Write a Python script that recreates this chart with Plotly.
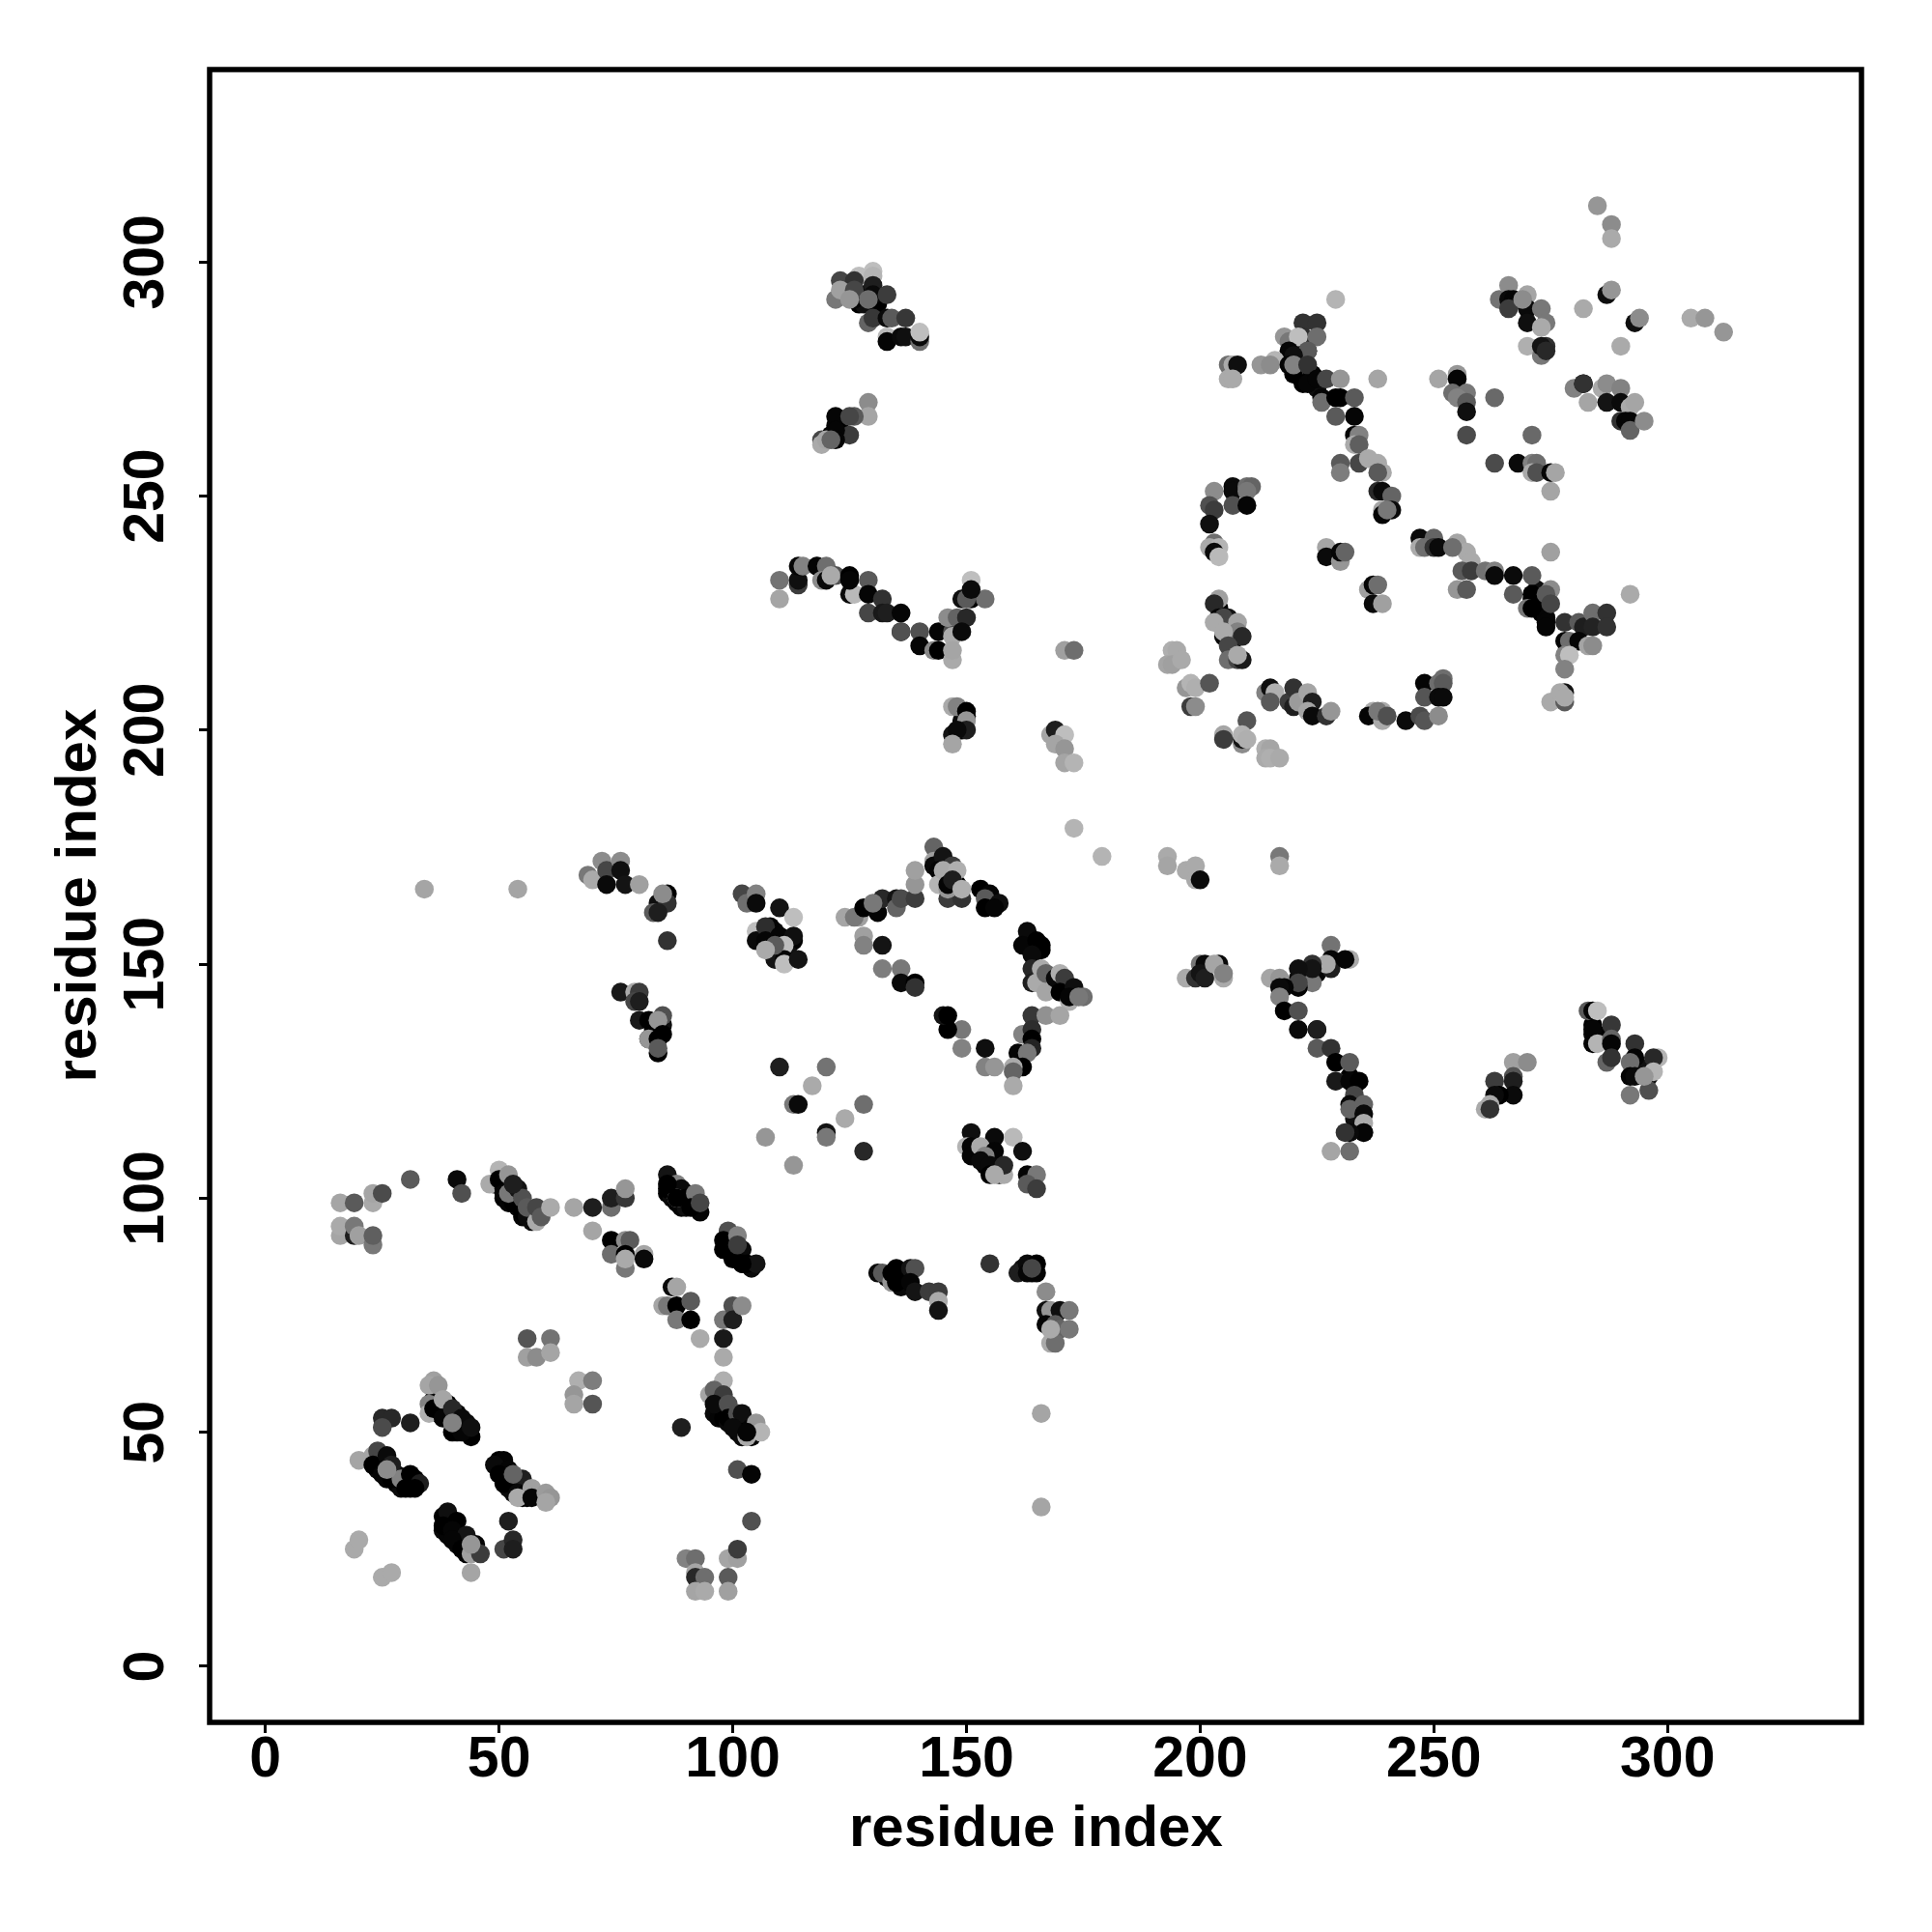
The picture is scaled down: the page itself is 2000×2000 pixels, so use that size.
import plotly.graph_objects as go

tick_values = [0, 50, 100, 150, 200, 250, 300]
axis_label = "residue index"

# dense dark contacts that lie under the lighter ones
under_i = [49,50,51,52,52,53,54,54,55,56,57,
36,37,37,38,39,39,41,41,41,43,43,44,
24,24,25,26,28,28,29,30,32,31,
50,50,51,52,52,53,53,55,55,56,57,
38,38,39,39,40,41,41,42,43,43,44,
96,96,97,97,98,98,99,100,101,102,102,103,104,
86,87,88,89,90,90,91,92,93,87,
98,99,100,101,101,102,104,
284,284,285,293,294,
232,233,234,234,233,
221,222,223,225,
223,221,220,224,225,
204,205,206,207,207,
271,272,273,274,272,273,
126,127,128,128,131,
122,123,121,
150,149,149,
153,154,155,156,157,157,
164,165,166,163,
133,134,136,137,136,
164,165,162,
113,109,110,108,112,106,
84,83,84,85,
146,145,148,
170,171,172,169]
under_j = [103,103,100,99,102,100,98,100,96,97,95,
57,54,56,55,53,56,51,54,50,50,52,49,
44,42,44,40,41,39,38,40,40,38,
43,42,42,40,38,39,37,38,36,36,37,
32,29,31,28,31,28,26,28,24,26,25,
57,54,55,53,55,53,52,53,50,51,49,52,49,
101,100,99,98,98,101,100,98,97,103,
89,90,88,87,88,86,85,
137,135,135,128,128,
126,124,120,118,117,
147,147,148,148,
281,282,276,276,273,
226,222,221,219,223,
228,227,225,224,230,228,
293,291,293,291,291,
265,266,263,
203,200,202,
109,107,110,108,107,105,
155,153,154,155,
83,83,83,83,81,
84,84,85,
155,157,152,158,152,156,
137,136,135,137,
168,169,167,
146,145,144,145]
under_grey = [0,10,0,5,15,0,10,0,5,0,10,
0,10,0,5,15,0,10,0,5,0,10,0,
0,10,0,5,15,0,10,0,5,0,
0,10,0,5,15,0,10,0,5,0,10,
0,10,0,5,15,0,10,0,5,0,10,
0,10,0,5,15,0,10,0,5,0,10,0,5,
0,10,0,5,15,0,10,0,5,0,
0,10,0,5,15,0,10,
0,10,0,5,15,
0,10,0,5,15,
0,10,0,5,
0,10,0,5,15,
0,10,0,5,15,
0,10,0,5,15,0,
10,0,5,15,0,
10,0,5,
15,0,10,
0,5,15,0,10,0,
5,15,0,10,
0,5,15,0,10,
0,5,15,
0,10,0,5,15,0,
10,0,5,15,
0,10,0,
5,15,0,10]

# residue i, residue j, grey level of each contact, in drawing order
res_i = [
16,19,23,23,25,31,41,42,16,16,19,19,20,23,23,
50,48,50,51,51,53,55,56,57,52,52,54,55,56,58,58,59,61,53,
66,70,74,74,77,77,70,74,74,77,78,77,77,77,81,81,
86,86,88,89,88,90,92,91,93,86,88,
99,98,101,99,102,100,103,105,102,101,
87,88,85,86,88,91,88,91,93,98,100,100,102,98,98,
56,61,56,58,61,67,70,66,66,70,
36,35,37,35,35,36,38,38,40,42,40,42,44,40,
25,27,25,31,
20,23,24,23,26,25,27,27,29,31,30,33,32,26,
50,51,49,52,50,51,55,54,56,57,54,57,60,61,60,53,
39,38,41,40,43,40,45,42,44,46,44,44,52,51,53,53,19,20,25,27,
101,104,104,89,
98,95,96,98,96,99,99,101,102,104,100,103,105,106,103,
90,92,92,92,94,92,94,99,101,101,99,99,
34,54,69,70,72,73,73,76,76,77,80,
86,84,86,83,84,85,86,
76,79,80,79,80,80,82,85,84,82,82,85,84,84,84,
102,103,105,105,110,113,
105,105,107,107,110,113,111,109,111,111,114,109,107,
110,120,117,113,114,128,124,120,120,128,107,113,
124,127,126,128,128,128,132,132,136,136,139,139,
131,132,130,135,135,136,139,139,139,
143,143,143,145,144,147,146,149,144,146,145,146,148,147,149,
153,155,154,154,157,156,
163,162,165,166,164,164,164,166,165,167,167,169,170,171,170,172,173,172,175,174,
164,167,170,162,164,164,161,164,163,162,160,160,160,154,156,154,149,149,146,145,146,173,179,
151,156,160,150,151,151,153,156,162,154,153,155,155,158,158,156,163,165,163,165,
131,132,134,135,134,135,138,139,138,139,142,144,144,144,
155,161,163,163,165,164,
167,167,168,170,172,167,169,170,172,168,169,168,166,166,
123,122,127,126,123,126,126,125,130,130,130,130,129,133,
129,130,133,134,137,133,133,136,137,140,140,140,
129,129,122,126,125,125,122,122,119,119,120,121,
110,110,114,114,114,115,118,118,120,119,120,122,121,125,125,126,125,129,129,129,132,132,133,136,136,136,140,140,143,144,144,147,147,147,147,146,148,150,149,149,151,150,154,151,151,
147,148,150,150,150,147,148,147,168,169,171,169,171,171,173,171,173,
229,222,225,218,219,222,225,221,219,223,220,
213,216,215,219,220,223,206,207,208,206,207,
222,223,225,227,230,238,226,226,229,230,233,229,233,
233,234,233,234,234,236,238,239,238,230,230,
238,239,241,239,239,241,240,
203,207,207,210,211,210,207,210,202,203,202,
203,202,204,203,204,
251,255,255,254,257,255,257,257,263,257,271,263,268,271,272,271,272,275,276,275,
285,288,288,287,288,264,266,266,267,266,270,270,269,273,270,274,273,282,
290,293,294,305,308,312,270,273,274,273,274,
280,282,282,283,286,287,290,287,290,292,293,290,291,292,292,295,
247,250,247,248,250,251,255,257,258,254,
256,258,261,263,263,267,271,255,257,
267,271,275,270,271,274,275,274,274,275,292,
278,281,282,284,287,284,287,278,279,281,283,284,278,279,278,
275,278,278,277,278,
204,203,204,206,205,208,203,205,208,205,209,206,206,208,209,208,
194,195,193,194,196,197,198,199,202,198,199,
210,205,205,209,209,209,210,214,215,214,215,217,
214,215,216,215,219,220,220,221,223,224,223,224,227,228,
237,236,239,239,238,240,244,247,248,251,
248,252,251,252,248,251,252,
227,227,230,230,231,236,237,238,237,239,
197,200,199,201,200,201,204,203,205,205,
228,228,228,232,231,227,
215,217,224,224,224,221,221,221,218,217,217,218,221,221,225,225,225,228,229,232,229,229,232,234,233,232,232,235,235,235,235,235,232,231,228,232,
267,270,267,267,263,267,264,263,262,261,262,
283,284,285,284,288,284,285,288,288,287,288,
293,293,298,297,292,292,296,297,292,296,293,295,
217,217,193,193,197,199,199,200,
]

res_j = [
99,99,99,101,101,104,104,101,92,94,92,94,92,90,92,
106,103,104,102,101,99,97,96,97,101,105,102,100,98,95,98,96,98,103,
98,98,98,100,100,102,93,91,88,91,91,88,85,87,88,87,
105,102,103,102,100,100,101,98,99,103,100,
93,91,92,89,89,87,86,86,86,90,
81,81,77,77,77,78,74,74,70,74,77,74,77,70,66,
70,70,66,66,67,61,61,58,56,56,
61,60,60,56,54,55,57,53,55,53,50,50,51,52,
53,53,51,52,
44,45,46,43,45,41,43,40,40,41,38,39,38,42,
44,44,43,42,41,39,40,37,37,38,36,36,37,36,35,41,
33,30,31,29,28,27,26,25,24,24,20,26,31,25,27,25,25,27,19,20,
42,41,31,51,
61,58,59,58,56,56,53,54,54,51,51,49,52,50,50,
23,23,20,19,19,16,16,23,23,25,19,16,
166,166,169,168,172,170,167,172,170,167,167,
165,163,163,161,161,165,155,
144,144,144,142,142,138,138,139,138,134,134,135,134,131,132,
165,163,165,163,162,160,
157,155,158,155,156,156,154,151,151,150,151,154,153,
128,128,124,120,120,120,117,114,113,110,113,107,
160,160,160,162,156,154,154,149,149,146,146,145,
161,164,163,164,162,164,164,167,170,
175,172,171,173,170,171,164,164,167,166,170,167,170,168,166,
166,165,164,162,163,162,
157,154,155,153,152,149,146,149,146,144,148,147,148,147,144,142,145,143,143,143,
139,139,139,135,136,134,131,132,131,128,128,127,124,128,128,132,136,132,136,139,139,179,173,
114,113,113,111,111,109,111,110,110,109,108,107,105,105,107,105,105,105,103,102,
84,84,82,85,84,82,85,85,82,80,80,80,78,76,
86,84,86,84,86,85,
80,76,76,76,76,73,73,72,72,69,69,72,54,34,
296,292,297,296,294,292,294,292,298,297,295,293,292,293,
287,288,288,288,288,284,283,284,284,283,284,285,
270,267,267,267,267,263,264,262,262,261,262,262,
232,228,231,232,235,235,235,235,235,232,232,233,233,233,229,229,232,232,229,225,228,225,225,225,221,221,221,218,217,221,217,221,220,215,217,224,224,224,221,228,228,228,228,232,230,
205,205,204,202,200,199,200,197,199,200,199,197,196,193,193,217,217,
292,287,287,284,283,284,284,284,281,281,280,
278,279,278,278,278,278,278,278,278,275,275,
274,274,275,275,275,275,271,270,271,271,271,267,267,
263,263,261,261,257,258,257,255,255,257,255,
251,251,250,247,246,247,247,
251,252,251,252,252,251,248,248,248,247,244,
240,239,239,238,237,
275,276,275,272,272,271,270,268,271,263,263,257,257,257,257,255,255,255,255,251,
312,308,305,293,294,292,295,292,292,290,293,290,292,290,287,287,286,290,
282,287,288,288,288,285,282,280,282,282,281,
273,274,274,270,273,274,273,270,270,269,270,266,266,266,264,266,
241,241,239,239,239,239,240,238,236,239,
234,234,234,234,233,233,233,230,230,
229,229,230,226,226,229,227,223,222,238,229,
223,223,222,225,225,222,222,219,219,219,218,218,216,216,213,
206,208,206,208,207,
228,227,224,224,224,223,223,220,221,221,220,218,215,215,215,216,
217,217,214,214,215,209,210,209,210,205,205,
202,199,198,197,198,199,198,196,196,194,194,194,
208,209,208,206,206,209,205,206,208,206,204,203,203,204,
204,203,204,202,204,203,202,203,202,203,
210,211,210,210,207,207,207,
239,237,236,238,238,230,231,231,227,227,
147,150,147,150,148,147,150,150,147,148,
154,151,149,151,151,150,
147,147,150,146,149,149,145,146,145,145,143,140,140,136,136,136,132,132,129,129,125,125,125,125,122,120,119,120,118,116,114,114,114,114,110,110,
129,129,126,125,125,122,122,122,120,119,119,
140,140,140,136,137,133,133,134,133,129,130,
133,130,130,130,129,126,126,127,122,123,126,126,
173,171,173,171,170,171,168,168,
]

grey = [
165,90,170,165,75,90,10,80,165,170,30,120,160,120,95,
180,170,0,0,5,0,0,10,10,120,150,20,80,90,170,70,90,170,30,
165,30,110,30,55,150,165,0,110,140,90,0,120,170,165,10,
20,0,130,10,170,0,120,0,70,0,0,
80,0,130,0,10,0,0,20,0,60,
10,165,165,120,0,90,120,0,170,120,80,30,140,25,170,
85,115,160,140,165,175,125,150,165,85,
160,165,150,130,175,0,165,5,40,10,0,5,15,130,
40,40,75,30,
165,165,70,0,10,5,30,0,130,0,0,30,0,140,
0,5,10,5,0,0,30,10,0,160,170,5,155,150,165,100,
15,0,0,5,20,5,5,0,160,60,165,150,30,70,40,30,170,170,170,170,
80,5,80,30,
175,165,100,60,10,80,0,80,15,5,10,170,150,180,5,
130,110,165,40,110,165,170,165,160,60,90,160,
165,165,120,170,140,70,10,140,15,20,160,
0,15,50,90,30,140,50,
25,170,60,70,30,25,0,80,150,20,150,0,0,0,90,
70,110,130,10,20,190,
190,10,45,5,5,15,190,20,5,190,20,90,170,
30,115,170,120,10,110,170,20,120,40,150,150,
165,160,120,0,160,130,20,125,120,10,0,50,
5,40,120,20,100,75,60,150,160,
100,160,10,20,5,60,60,50,180,150,170,5,175,30,175,
0,5,90,0,15,5,
10,5,0,0,10,40,30,170,170,165,100,10,175,60,0,175,15,5,110,120,
55,145,165,130,45,0,5,35,120,0,170,100,170,130,150,15,120,130,0,20,0,180,180,
15,10,185,180,5,5,170,5,15,130,10,10,0,170,40,170,5,120,90,60,
10,90,150,0,0,0,20,80,5,20,60,60,170,20,
50,30,10,5,0,70,
140,15,150,15,120,5,90,100,120,170,110,170,165,165,
70,120,190,50,160,5,70,150,190,180,30,10,110,60,
100,55,10,90,55,185,5,10,15,110,10,190,
140,165,5,90,70,60,5,5,70,170,165,100,
115,165,60,15,5,130,170,5,110,140,10,80,170,0,10,185,5,90,5,70,50,25,30,5,5,80,80,5,135,5,0,80,170,170,165,140,100,40,10,15,5,90,110,190,10,
170,130,0,150,30,20,10,165,165,30,190,165,150,165,180,160,110,
180,50,50,150,120,45,110,190,5,90,15,
150,180,140,5,130,50,110,170,15,170,170,
0,5,5,70,150,165,5,110,0,0,90,90,5,
5,130,170,95,70,170,170,170,90,90,125,
40,10,100,165,5,10,120,
140,10,10,110,100,120,80,5,80,60,15,
110,170,180,10,185,
165,150,5,110,120,130,90,15,105,75,105,75,10,130,110,170,80,5,165,165,
150,140,170,15,150,115,140,10,5,60,165,10,140,120,15,120,170,170,
170,15,140,170,150,150,175,120,50,20,40,
130,10,50,165,170,140,130,20,10,170,165,50,5,5,100,140,
10,100,170,110,50,10,165,170,170,110,
90,60,115,130,10,10,90,150,90,
90,0,140,120,0,90,70,5,5,160,170,
50,90,30,110,50,35,50,5,110,5,165,140,130,190,130,
170,20,90,170,170,
160,40,5,20,70,165,170,10,130,170,40,70,110,70,25,170,
175,170,165,160,170,150,180,175,85,60,140,
85,165,60,140,20,180,175,175,165,170,175,170,
130,15,175,90,60,50,30,155,165,30,165,10,50,150,
170,5,170,170,120,80,10,75,85,140,
5,110,110,90,85,10,10,
165,10,150,5,100,160,5,110,10,160,
170,120,50,10,20,30,10,165,170,130,
115,5,30,170,5,170,
165,150,50,120,20,15,5,70,5,10,130,0,80,10,10,30,90,50,0,90,170,25,5,0,70,10,100,100,10,170,100,5,10,50,165,110,
160,140,85,30,60,10,0,10,170,170,50,
90,5,190,5,55,5,180,100,5,100,50,
50,5,180,40,110,5,20,180,120,80,10,150,
120,170,170,165,170,170,170,10,
]

all_i = under_i + res_i
all_j = under_j + res_j
all_grey = under_grey + grey
if not (len(all_i) == len(all_j) == len(all_grey)):
    raise SystemExit(f"{len(under_i)} {len(under_j)} {len(under_grey)} / {len(res_i)} {len(res_j)} {len(grey)}")
colors = [f"rgb({v},{v},{v})" for v in all_grey]

fig = go.Figure(go.Scatter(
    x=all_i, y=all_j, mode="markers",
    marker=dict(size=19.5, color=colors, line=dict(width=0), opacity=1),
    hoverinfo="skip", showlegend=False,
))

common = dict(
    tickmode="array", tickvals=tick_values, ticks="outside", ticklen=10, tickwidth=3,
    tickcolor="black", showgrid=False, zeroline=False, showline=False,
    tickfont=dict(family="Liberation Sans", size=59, color="black", weight=700),
)
fig.update_xaxes(range=[-11.94, 341.5], ticklabelstandoff=-26, **common)
fig.update_yaxes(range=[-12.0, 341.1], tickangle=-90, ticklabelstandoff=13, ticklabelshift=9, **common)

title_font = dict(family="Liberation Sans", size=60, color="black", weight=700)
fig.update_layout(
    width=2000, height=2000, autosize=False,
    margin=dict(l=216.5, r=73, t=71.5, b=217, pad=0),
    paper_bgcolor="white", plot_bgcolor="white",
    shapes=[dict(type="rect", xref="paper", yref="paper", x0=0, x1=1, y0=0, y1=1,
                 line=dict(color="black", width=5.5), layer="above")],
    annotations=[
        dict(text=axis_label, xref="paper", yref="paper", x=0.5, y=0, yshift=-107,
             showarrow=False, xanchor="center", yanchor="middle", font=title_font),
        dict(text=axis_label, xref="paper", yref="paper", x=0, y=0.5, xshift=-139,
             showarrow=False, xanchor="center", yanchor="middle", textangle=-90, font=title_font),
    ],
)
fig.write_html("out.html", post_script="document.body.style.margin='0';",
               config=dict(displayModeBar=False))
